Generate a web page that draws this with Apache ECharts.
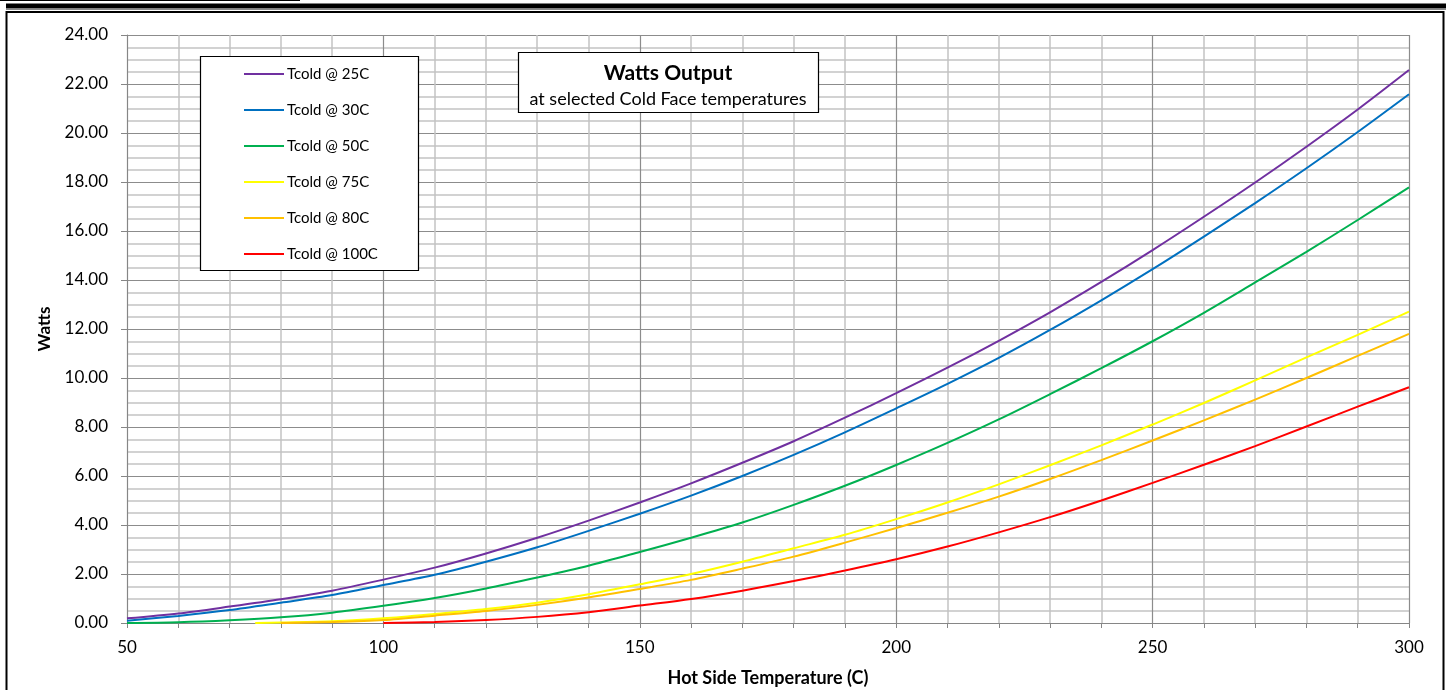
<!DOCTYPE html>
<html>
<head>
<meta charset="utf-8">
<script src="https://cdn.jsdelivr.net/npm/echarts@6/dist/echarts.min.js"></script>
<style>
  html, body { margin: 0; padding: 0; background: #fff; }
  #main { width: 1449px; height: 690px; }
</style>
</head>
<body>
<div id="main"></div>
<script>
var hotTemps = [50, 60, 70, 80, 90, 100, 110, 120, 130, 140, 150, 160, 170, 180, 190, 200, 210, 220, 230, 240, 250, 260, 270, 280, 290, 300];

var tcold25 = [0.19, 0.39, 0.67, 0.97, 1.32, 1.77, 2.26, 2.84, 3.48, 4.18, 4.92, 5.7, 6.54, 7.42, 8.38, 9.38, 10.42, 11.52, 12.68, 13.92, 15.22, 16.58, 17.98, 19.44, 20.96, 22.57];
var tcold30 = [0.09, 0.29, 0.53, 0.83, 1.14, 1.55, 1.97, 2.5, 3.09, 3.76, 4.46, 5.2, 6.0, 6.86, 7.78, 8.76, 9.76, 10.82, 11.96, 13.17, 14.44, 15.77, 17.14, 18.56, 20.04, 21.58];
var tcold50 = [0, 0.03, 0.11, 0.23, 0.42, 0.7, 1.02, 1.41, 1.86, 2.34, 2.9, 3.48, 4.1, 4.82, 5.6, 6.45, 7.35, 8.31, 9.34, 10.4, 11.5, 12.66, 13.9, 15.15, 16.45, 17.78];
var tcold75 = [null, null, null, 0.02, 0.07, 0.19, 0.37, 0.57, 0.83, 1.17, 1.58, 2.0, 2.5, 3.05, 3.6, 4.24, 4.92, 5.66, 6.44, 7.25, 8.1, 8.98, 9.9, 10.84, 11.76, 12.71];
var tcold75Start = [75, 0];
var tcold80 = [null, null, null, 0, 0.04, 0.12, 0.3, 0.49, 0.74, 1.04, 1.39, 1.76, 2.22, 2.71, 3.28, 3.88, 4.5, 5.16, 5.88, 6.65, 7.45, 8.27, 9.12, 10.0, 10.9, 11.8];
var tcold100 = [null, null, null, null, null, 0, 0.04, 0.12, 0.25, 0.44, 0.71, 0.98, 1.32, 1.71, 2.14, 2.6, 3.12, 3.7, 4.32, 5.0, 5.72, 6.46, 7.22, 8.02, 8.83, 9.62];

var seriesNames = ['Tcold @ 25C', 'Tcold @ 30C', 'Tcold @ 50C', 'Tcold @ 75C', 'Tcold @ 80C', 'Tcold @ 100C'];
var seriesColors = ['#7030A0', '#0070C0', '#00B050', '#FFFF00', '#FFC000', '#FF0000'];

function pairs(vals) {
    return hotTemps.map(function (x, i) { return [x, vals[i]]; })
        .filter(function (p) { return p[1] !== null; });
}

var yellowData = pairs(tcold75);
yellowData.unshift(tcold75Start);
var allData = [pairs(tcold25), pairs(tcold30), pairs(tcold50), yellowData, pairs(tcold80), pairs(tcold100)];

var chartDom = document.getElementById('main');
var myChart = echarts.init(chartDom);
var option;

var font = 'Lato, "Open Sans", sans-serif';

option = {
    animation: false,
    textStyle: { fontFamily: font },
    title: {
        text: 'Watts Output',
        subtext: 'at selected Cold Face temperatures',
        left: 668,
        top: 62.5,
        padding: 0,
        textAlign: 'center',
        itemGap: 7,
        z: 20,
        textStyle: { fontFamily: font, fontSize: 21, fontWeight: 'bold', color: '#000' },
        subtextStyle: { fontFamily: font, fontSize: 18, color: '#000' }
    },
    legend: {
        orient: 'vertical',
        left: 243,
        top: 66,
        padding: 0,
        itemWidth: 40,
        itemHeight: 16,
        itemGap: 20,
        z: 20,
        data: seriesNames,
        itemStyle: { opacity: 0 },
        textStyle: { fontFamily: font, fontSize: 15, lineHeight: 16, color: '#000', padding: [0, 0, 0, -2] }
    },
    graphic: [
        { type: 'line', shape: { x1: 0, y1: 0.5, x2: 300, y2: 0.5 }, style: { stroke: '#000', lineWidth: 1 } },
        { type: 'rect', shape: { x: 6, y: 3.5, width: 1440, height: 5 }, style: { fill: '#000' } },
        { type: 'line', shape: { x1: 6, y1: 9.5, x2: 1446, y2: 9.5 }, style: { stroke: '#888', lineWidth: 1 } },
        { type: 'rect', shape: { x: 6.5, y: 12, width: 1437, height: 690 }, style: { fill: null, stroke: '#000', lineWidth: 2 } },
        { type: 'rect', z: 10, shape: { x: 200.5, y: 56.5, width: 218, height: 214 }, style: { fill: '#fff', stroke: '#000', lineWidth: 1.2 } },
        { type: 'rect', z: 10, shape: { x: 518.5, y: 52.5, width: 300, height: 60 }, style: { fill: '#fff', stroke: '#000', lineWidth: 1.2 } }
    ],
    grid: {
        left: 127,
        right: 40,
        top: 35,
        bottom: 67,
        outerBoundsMode: 'none'
    },
    xAxis: {
        type: 'value',
        min: 50,
        max: 300,
        interval: 50,
        name: 'Hot Side Temperature (C)',
        nameLocation: 'middle',
        nameGap: 46,
        nameTextStyle: { fontFamily: font, fontSize: 18, fontWeight: 'bold', color: '#000' },
        axisLine: { lineStyle: { color: '#868686', width: 1 } },
        axisTick: { show: true, length: 5, lineStyle: { color: '#868686' } },
        minorTick: { show: true, splitNumber: 5, length: 5, lineStyle: { color: '#868686' } },
        axisLabel: { margin: 16, fontSize: 17, color: '#000' },
        splitLine: { show: true, lineStyle: { color: '#8c8c8c', width: 1.2 } },
        minorSplitLine: { show: true, lineStyle: { color: '#c4c4c4', width: 1.5 } }
    },
    yAxis: {
        type: 'value',
        min: 0,
        max: 24,
        interval: 2,
        name: 'Watts',
        nameLocation: 'middle',
        nameGap: 74,
        nameTextStyle: { fontFamily: font, fontSize: 17, fontWeight: 'bold', color: '#000' },
        axisLine: { show: true, lineStyle: { color: '#868686', width: 1 } },
        axisTick: { show: true, length: 6, lineStyle: { color: '#868686' } },
        minorTick: { show: false, splitNumber: 4 },
        axisLabel: {
            margin: 19,
            fontSize: 17,
            color: '#000',
            formatter: function (v) { return v.toFixed(2); }
        },
        splitLine: { show: true, lineStyle: { color: '#8c8c8c', width: 1.2 } },
        minorSplitLine: { show: true, lineStyle: { color: '#c4c4c4', width: 1.5 } }
    },
    series: seriesNames.map(function (name, i) {
        return {
            name: name,
            type: 'line',
            data: allData[i],
            smooth: 0.3,
            symbol: 'none',
            color: seriesColors[i],
            lineStyle: { width: 2, color: seriesColors[i] }
        };
    })
};

option && myChart.setOption(option);
</script>
</body>
</html>
